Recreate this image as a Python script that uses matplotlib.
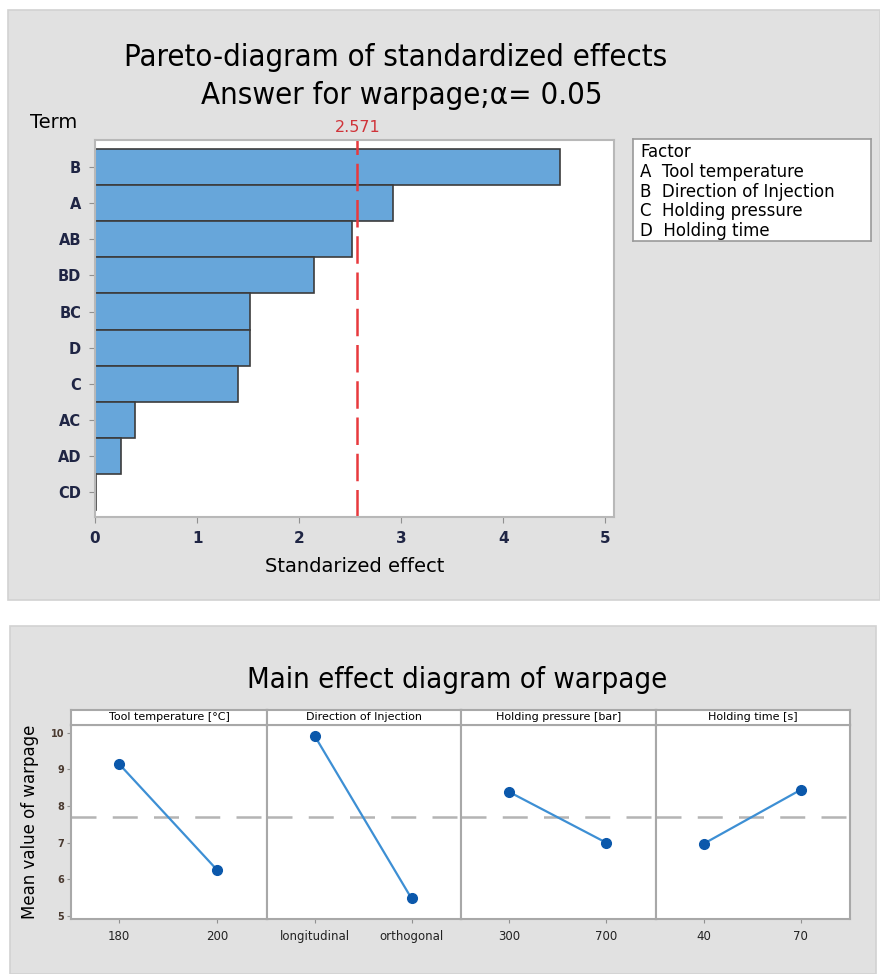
import matplotlib
matplotlib.use("Agg")
import matplotlib.pyplot as plt
from matplotlib.patches import Rectangle

# pareto of standardized effects
terms = ["B", "A", "AB", "BD", "BC", "D", "C", "AC", "AD", "CD"]
effects = [4.56, 2.92, 2.52, 2.15, 1.52, 1.52, 1.40, 0.39, 0.25, 0.01]
t_crit = 2.571
factor_codes = ["A", "B", "C", "D"]
factor_names = ["Tool temperature", "Direction of Injection",
                "Holding pressure", "Holding time"]

# main effects (mean warpage at low / high level)
me_titles = ["Tool temperature [°C]", "Direction of Injection",
             "Holding pressure [bar]", "Holding time [s]"]
me_levels = [["180", "200"], ["longitudinal", "orthogonal"],
             ["300", "700"], ["40", "70"]]
me_means = [[9.15, 6.26], [9.92, 5.48], [8.39, 7.00], [6.97, 8.44]]
grand_mean = 7.70

W, H = 880, 974
BAR = "#67a6da"
NAVY = "#1f2544"
TITLE_KW = dict(family="DejaVu Sans", fontstretch="condensed")


def box(x0, y0, x1, y1):
    # pixel box (top-left origin) -> figure fraction rect
    return [x0 / W, 1 - y1 / H, (x1 - x0) / W, (y1 - y0) / H]


fig = plt.figure(figsize=(W / 100, H / 100), dpi=100)
fig.patch.set_facecolor("white")
for x0, y0, x1, y1 in [(8, 10, 880, 600), (10, 626, 876, 974)]:
    r = box(x0, y0, x1, y1)
    fig.add_artist(Rectangle((r[0], r[1]), r[2], r[3], transform=fig.transFigure,
                             facecolor="#e1e1e1", edgecolor="#d2d2d2", lw=1.2,
                             zorder=-10))

# ---- pareto chart ----
fig.text(396 / W, 1 - 57 / H, "Pareto-diagram of standardized effects",
         ha="center", va="center", fontsize=22.3, **TITLE_KW)
fig.text(402 / W, 1 - 95 / H, "Answer for warpage;α= 0.05",
         ha="center", va="center", fontsize=22.3, **TITLE_KW)
fig.text(30 / W, 1 - 122 / H, "Term", ha="left", va="center", fontsize=14)

ax = fig.add_axes(box(95, 140, 614, 517))
pos = list(range(len(terms)))
ax.barh(pos, effects, height=1.0, color=BAR, edgecolor="#3c3c3c", lw=1.2)
ax.axvline(t_crit, color="#e8393d", ls=(0, (11, 3.5)), lw=1.8)
ax.text(t_crit, -0.9, "2.571", color="#d0343a", ha="center", va="bottom",
        fontsize=11.5, transform=ax.transData, clip_on=False)
ax.set_xlim(0, 5.085)
ax.set_ylim(9.69, -0.75)
ax.set_yticks(pos)
ax.set_yticklabels(terms, fontsize=10.5, fontweight="bold", color=NAVY)
ax.set_xticks(range(6))
ax.set_xticklabels([str(i) for i in range(6)], fontsize=11, fontweight="bold",
                   color=NAVY)
ax.tick_params(axis="both", length=4, color="#909090", pad=6)
ax.set_xlabel("Standarized effect", fontsize=14, labelpad=8)
for s in ax.spines.values():
    s.set_color("#b8b8b8")
    s.set_linewidth(1.5)

# factor key
lg = fig.add_axes(box(633, 139, 871, 241))
lg.set_xticks([])
lg.set_yticks([])
for s in lg.spines.values():
    s.set_color("#9a9a9a")
    s.set_linewidth(1.2)
lg.text(0.03, 0.87, "Factor", fontsize=12, va="center", transform=lg.transAxes)
for i, (c, n) in enumerate(zip(factor_codes, factor_names)):
    lg.text(0.03, 0.68 - i * 0.195, c + "  " + n, fontsize=12, va="center",
            transform=lg.transAxes)

# ---- main effects ----
fig.text(457 / W, 1 - 680 / H, "Main effect diagram of warpage",
         ha="center", va="center", fontsize=21, **TITLE_KW)

edges = [71, 267, 461, 656, 850]
for k in range(4):
    a = fig.add_axes(box(edges[k], 725, edges[k + 1], 919))
    a.axhline(grand_mean, color="#b4b4b4", ls=(0, (10, 6.5)), lw=1.8, zorder=1)
    a.plot([0, 1], me_means[k], "-", color="#3d8fd4", lw=1.6, zorder=2)
    a.plot([0, 1], me_means[k], "o", color="#0b58ab", ms=7, zorder=3)
    a.set_xlim(-0.49, 1.51)
    a.set_ylim(4.92, 10.21)
    a.set_xticks([0, 1])
    a.set_xticklabels(me_levels[k], fontsize=8.5, color="#222222")
    a.tick_params(axis="x", length=3, color="#909090", pad=5)
    a.set_yticks(range(5, 11))
    if k == 0:
        a.set_yticklabels([str(v) for v in range(5, 11)], fontsize=7,
                          fontweight="bold", color="#4a3a30")
        a.tick_params(axis="y", length=3, color="#909090", pad=2)
        a.set_ylabel("Mean value of warpage", fontsize=12, labelpad=8)
    else:
        a.tick_params(axis="y", length=0, labelleft=False)
    for s in a.spines.values():
        s.set_color("#a8a8a8")
        s.set_linewidth(1.5)

    st = fig.add_axes(box(edges[k], 710, edges[k + 1], 725))
    st.set_xticks([])
    st.set_yticks([])
    st.text(0.5, 0.5, me_titles[k], ha="center", va="center", fontsize=8,
            transform=st.transAxes)
    for s in st.spines.values():
        s.set_color("#a8a8a8")
        s.set_linewidth(1.5)

fig.savefig("out.png", dpi=100)
